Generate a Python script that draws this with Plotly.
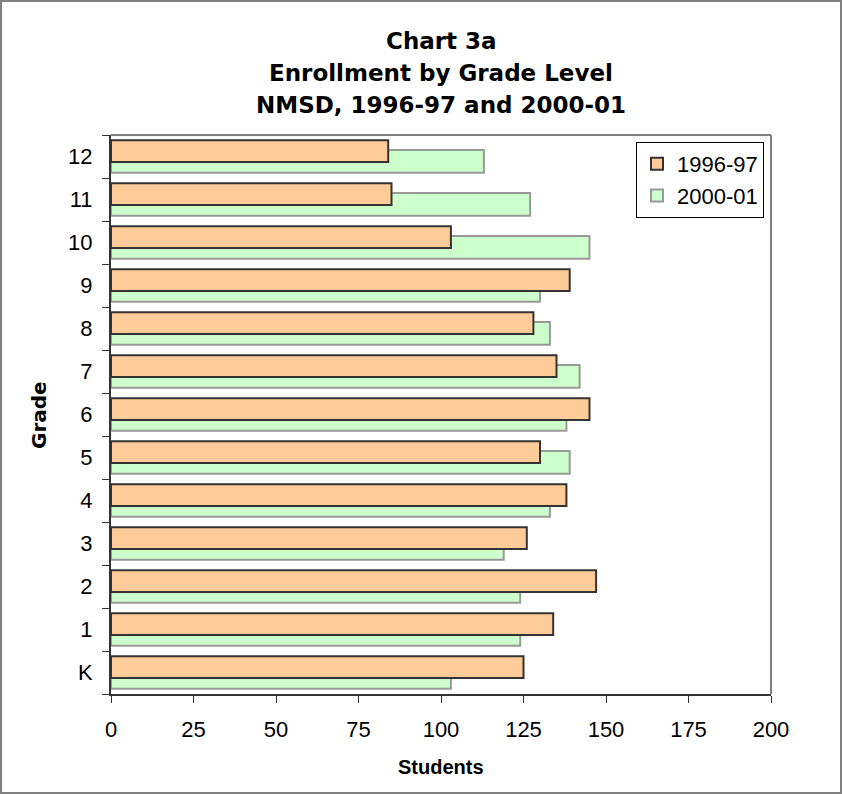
import plotly.graph_objects as go

grades = ["K", "1", "2", "3", "4", "5", "6", "7", "8", "9", "10", "11", "12"]
enroll_1996 = [125, 134, 147, 126, 138, 130, 145, 135, 128, 139, 103, 85, 84]
enroll_2000 = [103, 124, 124, 119, 133, 139, 138, 142, 133, 130, 145, 127, 113]
x_ticks = [0, 25, 50, 75, 100, 125, 150, 175, 200]

FONT = "Arial, 'Liberation Sans', sans-serif"
BOLDFONT = "'DejaVu Sans', Arial, sans-serif"
W, H = 842, 794
L, R, T, B = 111, 71, 135, 100
pw, ph = W - L - R, H - T - B

def px_x(px):
    return (px - L) / pw

def px_y(py):
    return (H - B - py) / ph

fig = go.Figure()
fig.add_trace(go.Bar(
    y=grades, x=enroll_2000, orientation="h", name="2000-01",
    marker=dict(color="#CCFFCC", line=dict(color="#999999", width=2)),
    width=0.53, offset=-0.38, legendrank=2,
))
fig.add_trace(go.Bar(
    y=grades, x=enroll_1996, orientation="h", name="1996-97",
    marker=dict(color="#FFCC99", line=dict(color="#333333", width=2)),
    width=0.51, offset=-0.13, legendrank=1,
))

titles = ["Chart 3a", "Enrollment by Grade Level", "NMSD, 1996-97 and 2000-01"]
ys = [41, 73, 105]
annotations = []
for t, yy in zip(titles, ys):
    annotations.append(dict(
        text=f"<b>{t}</b>", x=px_x(441), y=px_y(yy), xref="paper", yref="paper",
        xanchor="center", yanchor="middle", showarrow=False,
        font=dict(family=BOLDFONT, size=23, color="black"),
    ))
annotations.append(dict(
    text="<b>Grade</b>", x=px_x(39), y=px_y(415), xref="paper", yref="paper",
    xanchor="center", yanchor="middle", showarrow=False, textangle=-90,
    font=dict(family=BOLDFONT, size=20, color="black"),
))
annotations.append(dict(
    text="<b>Students</b>", x=px_x(441), y=px_y(767), xref="paper", yref="paper",
    xanchor="center", yanchor="middle", showarrow=False,
    font=dict(family=FONT, size=20, color="black"),
))

shapes = [
    dict(type="rect", xref="paper", yref="paper", x0=px_x(1), x1=px_x(841),
         y0=px_y(793), y1=px_y(1), line=dict(color="#808080", width=2),
         fillcolor="rgba(0,0,0,0)", layer="below"),
    dict(type="line", xref="paper", yref="paper", x0=0, x1=1, y0=1, y1=1,
         line=dict(color="#808080", width=2)),
    dict(type="line", xref="paper", yref="paper", x0=1, x1=1, y0=0, y1=1,
         line=dict(color="#808080", width=2)),
]

fig.update_layout(
    width=W, height=H,
    margin=dict(l=L, r=R, t=T, b=B),
    paper_bgcolor="white", plot_bgcolor="white",
    barmode="overlay",
    showlegend=True,
    legend=dict(
        x=px_x(636), y=px_y(142), xanchor="left", yanchor="top",
        bordercolor="black", borderwidth=1, bgcolor="white",
        font=dict(family=FONT, size=22, color="black"),
        itemwidth=30,
    ),
    font=dict(family=FONT, size=22, color="black"),
    annotations=annotations,
    shapes=shapes,
)
fig.update_xaxes(
    range=[0, 200], tickvals=x_ticks, ticktext=[str(v) for v in x_ticks],
    showgrid=False, zeroline=False, showline=True, linecolor="#333333", linewidth=2,
    ticks="outside", ticklen=7, tickcolor="#333333", tickwidth=1,
    tickfont=dict(family=FONT, size=22, color="black"), ticklabelstandoff=8,
)
fig.update_yaxes(
    categoryorder="array", categoryarray=grades, range=[-0.5, 12.5],
    showgrid=False, zeroline=False, showline=True, linecolor="#333333", linewidth=2,
    ticks="outside", ticklen=7, tickcolor="#333333", tickwidth=1, tickson="boundaries",
    tickfont=dict(family=FONT, size=22, color="black"), ticklabelstandoff=12,
)

fig.write_html("out.html")
